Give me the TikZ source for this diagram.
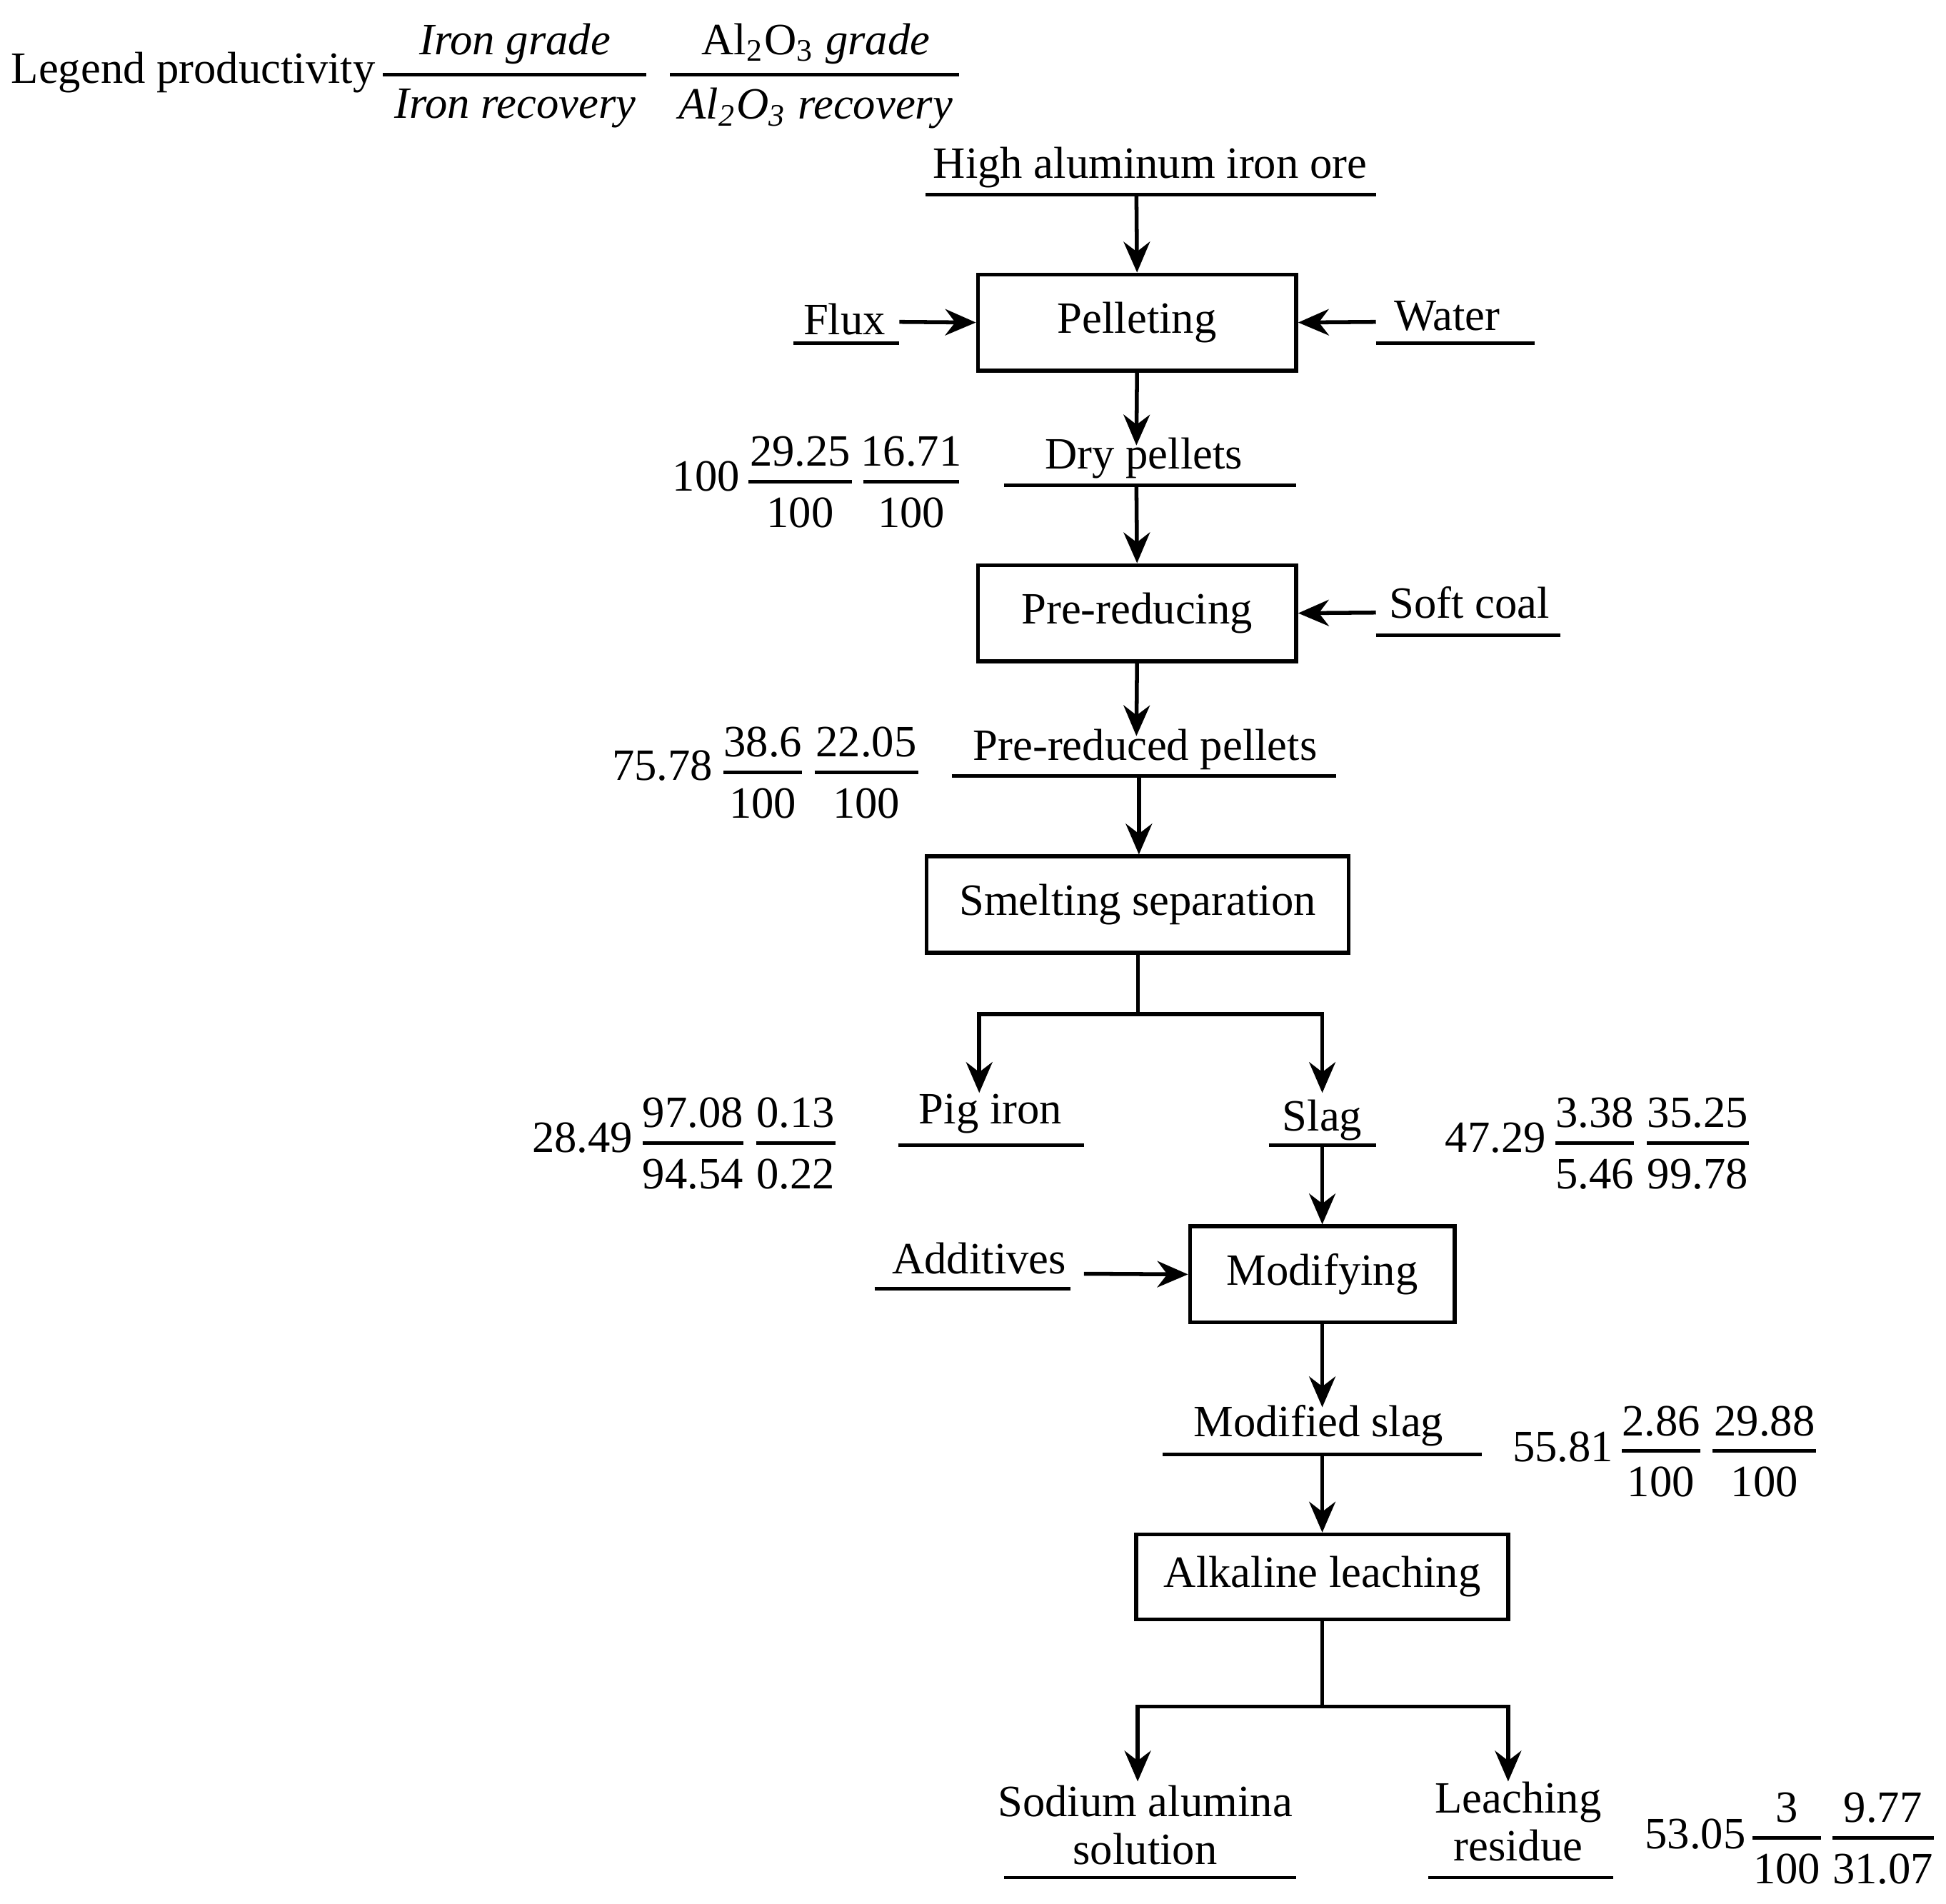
\documentclass[tikz,border=0pt]{standalone}
\usepackage{fontspec}
\setmainfont{Liberation Serif}
\usetikzlibrary{arrows.meta}
\begin{document}
\begin{tikzpicture}[x=0.01cm,y=-0.01cm,font=\fontsize{10.2}{12}\selectfont,
  box/.style={draw,line width=0.9pt,minimum height=0.77cm,inner sep=0pt},
  arr/.style={-{Stealth[length=7pt,width=6pt]},line width=0.9pt},
  ln/.style={line width=0.8pt},
  t/.style={inner sep=0pt,anchor=center}]
\useasboundingbox (0,0) rectangle (1560,1526);
% legend
\node[t] (leg) at (155,58) {Legend productivity};
\draw[ln] (307,60) -- (518,60); \draw[ln] (537,60) -- (769,60);
\node[t] (l1) at (413,35) {\textit{Iron grade}};
\node[t] (l2) at (413,87) {\textit{Iron recovery}};
\node[t] (l3) at (654,35) {Al\textsubscript{2}O\textsubscript{3} \textit{grade}};
\node[t] (l4) at (654,87) {\textit{Al\textsubscript{2}O\textsubscript{3} recovery}};
% main
\node[t] (ore) at (922,134) {High aluminum iron ore};
\draw[ln] (742,156) -- (1103,156);
\coordinate (oreb) at (911,156);
\node[box,minimum width=2.55cm] (pel) at (911.5,258.5) {Pelleting};
\node[t] (flux) at (677,256) {Flux}; \draw[ln] (636,275) -- (721,275);
\node[t] (water) at (1160,253) {Water}; \draw[ln] (1103,275) -- (1230,275);
\coordinate (fluxe) at (721,258); \coordinate (watere) at (1103,258);
\draw[arr] (oreb) -- (pel.north);
\draw[arr] (fluxe) -- (pel.west);
\draw[arr] (watere) -- (pel.east);
\node[t] (dry) at (917,367) {Dry pellets}; \draw[ln] (805,389) -- (1039,389);
\coordinate (dryt) at (911,357); \coordinate (dryb) at (911,389);
\draw[arr] (pel.south) -- (dryt);
\node[box,minimum width=2.55cm] (pre) at (911.5,491.5) {Pre-reducing};
\draw[arr] (dryb) -- (pre.north);
\node[t] (coal) at (1178,483) {Soft coal}; \draw[ln] (1103,509) -- (1251,509);
\coordinate (coale) at (1103,491);
\draw[arr] (coale) -- (pre.east);
\node[t] (prp) at (918,601) {Pre-reduced pellets}; \draw[ln] (763,622) -- (1071,622);
\coordinate (prpt) at (911,590); \coordinate (prpb) at (913,622);
\draw[arr] (pre.south) -- (prpt);
\node[box,minimum width=3.38cm] (sme) at (912,725) {Smelting separation};
\draw[arr] (prpb) -- (sme.north -| prpb);
\coordinate (sj) at (912,813);
\node[t] (pig) at (794,893) {Pig iron}; \draw[ln] (720,918) -- (869,918);
\node[t] (slag) at (1060,898) {Slag}; \draw[ln] (1017,918) -- (1103,918);
\coordinate (pigt) at (785,876); \coordinate (slagt) at (1060,876);
\draw[ln] (sme.south -| sj) -- (sj);
\draw[arr] (sj) -| (pigt); \draw[arr] (sj) -| (slagt);
\node[box,minimum width=2.12cm] (mod) at (1060,1021.5) {Modifying};
\coordinate (slagb) at (1060,918);
\draw[arr] (slagb) -- (mod.north);
\node[t] (add) at (785,1009) {Additives}; \draw[ln] (701,1033) -- (858,1033);
\coordinate (adde) at (869,1021);
\draw[arr] (adde) -- (mod.west);
\node[t] (ms) at (1057,1143) {Modified slag}; \draw[ln] (932,1166) -- (1188,1166);
\coordinate (mst) at (1060,1128); \coordinate (msb) at (1060,1166);
\draw[arr] (mod.south) -- (mst);
\node[box,minimum width=2.98cm,minimum height=0.68cm] (alk) at (1060,1264) {Alkaline leaching};
\draw[arr] (msb) -- (alk.north);
\coordinate (aj) at (1060,1368);
\node[t,align=center] (sod) at (918,1463) {Sodium alumina\\[-1pt]solution}; \draw[ln] (805,1505) -- (1039,1505);
\node[t,align=center] (res) at (1217,1460) {Leaching\\[-1pt]residue}; \draw[ln] (1145,1505) -- (1293,1505);
\coordinate (sodt) at (912,1428); \coordinate (rest) at (1209,1428);
\draw[ln] (alk.south) -- (aj);
\draw[arr] (aj) -| (sodt); \draw[arr] (aj) -| (rest);
% numbers
\newcommand{\fr}[5]{\draw[ln] (#1,#3) -- (#2,#3);
  \node[t] at ({(#1+#2)/2},#3-24) {#4}; \node[t] at ({(#1+#2)/2},#3+25) {#5};}
\node[t] (n1) at (566,382) {100}; \fr{600}{683}{386}{29.25}{100} \fr{692}{769}{386}{16.71}{100}
\node[t] (n2) at (531,614) {75.78}; \fr{580}{643}{619}{38.6}{100} \fr{653}{736}{619}{22.05}{100}
\node[t] (n3) at (467,912) {28.49}; \fr{515}{596}{916}{97.08}{94.54} \fr{606}{670}{916}{0.13}{0.22}
\node[t] (n4) at (1199,912) {47.29}; \fr{1247}{1310}{916}{3.38}{5.46} \fr{1320}{1402}{916}{35.25}{99.78}
\node[t] (n5) at (1253,1160) {55.81}; \fr{1300}{1363}{1163}{2.86}{100} \fr{1373}{1456}{1163}{29.88}{100}
\node[t] (n6) at (1359,1470) {53.05}; \fr{1405}{1460}{1473}{3}{100} \fr{1469}{1550}{1473}{9.77}{31.07}
\end{tikzpicture}
\end{document}
